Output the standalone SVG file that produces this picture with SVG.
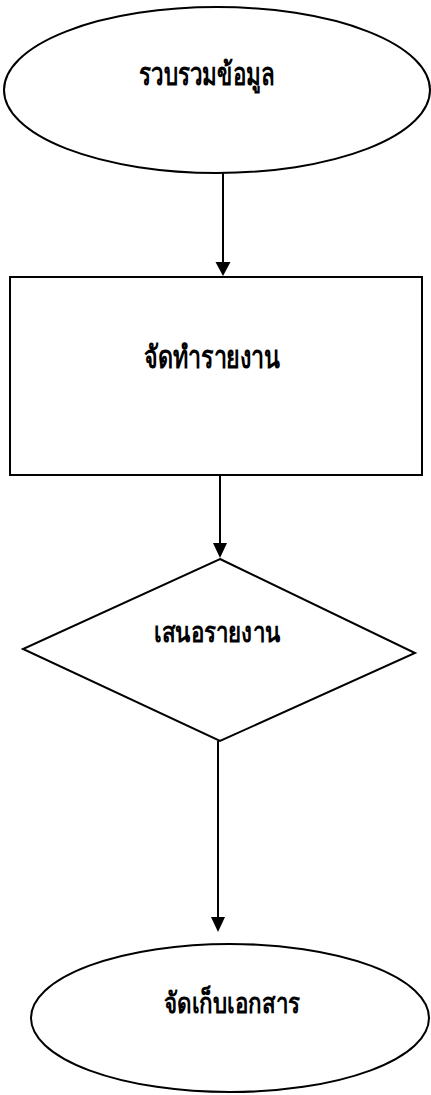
<svg xmlns="http://www.w3.org/2000/svg" width="431" height="1095" viewBox="0 0 431 1095">
<style>
.shape{fill:#fff;stroke:#000;stroke-width:2}
.lbl{font-family:"Liberation Serif","Noto Sans",serif;font-weight:bold;font-size:24px;fill:#000;text-anchor:middle}
.lbl2{font-family:"Liberation Serif","Noto Sans",serif;font-weight:bold;font-size:23px;fill:#000;text-anchor:middle}
.conn{stroke:#000;stroke-width:2;fill:none}
</style>
<rect width="431" height="1095" fill="#fff"/>
<g id="connectors">
<line class="conn" x1="223" y1="173" x2="223" y2="262"/>
<path d="M215.5,262 L230.5,262 L223,276 Z" fill="#000"/>
<line class="conn" x1="220" y1="475" x2="220" y2="543"/>
<path d="M213,543 L227,543 L220,558 Z" fill="#000"/>
<line class="conn" x1="218" y1="741" x2="218" y2="917"/>
<path d="M211,917 L225,917 L218,932 Z" fill="#000"/>
</g>
<g id="node1">
<ellipse class="shape" cx="217" cy="90" rx="213" ry="83"/>
<text class="lbl" transform="translate(207,85) scale(0.93,1.3)">รวบรวมข้อมูล</text>
</g>
<g id="node2">
<rect class="shape" x="10" y="277" width="412" height="198"/>
<text class="lbl" transform="translate(212,368) scale(0.97,1.3)">จัดทำรายงาน</text>
</g>
<g id="node3">
<polygon class="shape" points="220,559 415,653 220,741 23,649"/>
<text class="lbl2" transform="translate(217,642) scale(0.97,1.25)">เสนอรายงาน</text>
</g>
<g id="node4">
<ellipse class="shape" cx="230" cy="1018" rx="199" ry="74"/>
<text class="lbl2" transform="translate(232,1013) scale(0.97,1.25)">จัดเก็บเอกสาร</text>
</g>
</svg>
